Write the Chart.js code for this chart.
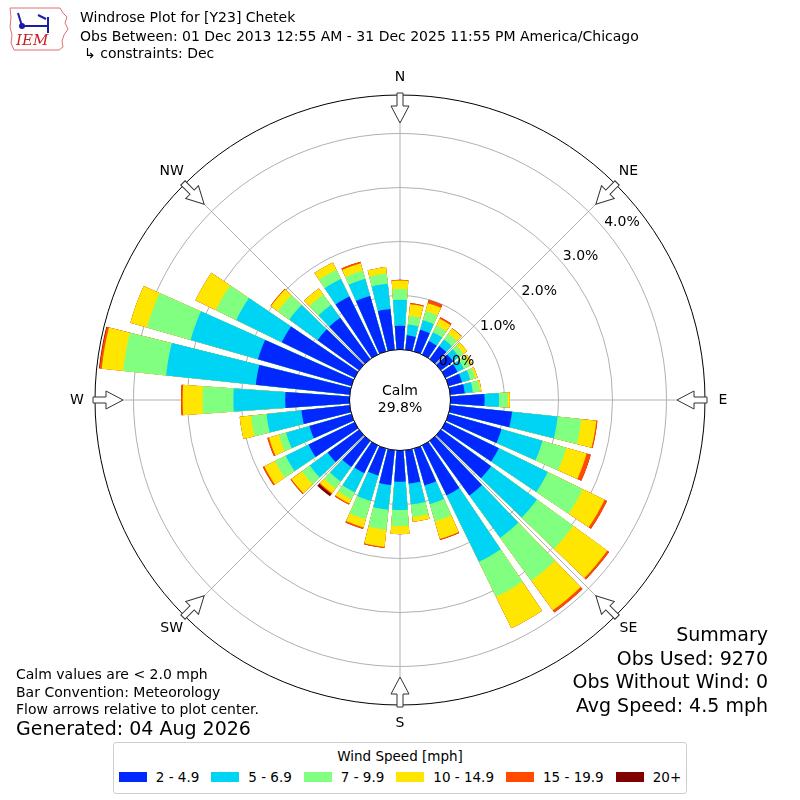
<!DOCTYPE html>
<html>
<head>
<meta charset="utf-8">
<script src="https://cdn.jsdelivr.net/npm/chart.js@4.4.0/dist/chart.umd.min.js"></script>
<style>
  body { margin: 0; background: #fff; font-family: "DejaVu Sans", sans-serif; }
  #wrap { position: relative; width: 800px; height: 800px; overflow: hidden; }
  #rose { position: absolute; left: 0; top: 0; }
  .txt { position: absolute; white-space: pre; color: #000; }
  #legend { position: absolute; left: 113px; top: 742px; width: 572px; height: 50px;
            border: 1px solid #cfcfcf; border-radius: 3px; background: #fff; }
  #legend .ttl { text-align: center; font-size: 13.5px; line-height: 16px; margin-top: 5px; white-space: nowrap; }
  #legItems { display: flex; justify-content: center; align-items: center; margin-top: 5px;
              font-size: 13.5px; line-height: 16px; white-space: nowrap; }
  #legItems span.sw { display: inline-block; width: 28px; height: 10px; margin-right: 9px; flex: none; }
  #legItems span.lb { margin-right: 12px; flex: none; }
  #legItems span.lb:last-child { margin-right: 0; }
</style>
</head>
<body>
<div id="wrap">
  <canvas id="rose" width="800" height="800"></canvas>

  <svg style="position:absolute;left:8px;top:5px" width="62" height="46" viewBox="0 0 62 46">
    <path d="M2 3 L52 3 L55 8 L59 12 L57 18 L60 24 L56 30 L54 36 L55 42 L51 45 L6 45 L3 38 L4 30 L2 22 L3 12 Z"
          fill="none" stroke="#e07070" stroke-width="1"/>
    <g stroke="#1c1ca8" stroke-width="2" fill="#1c1ca8">
      <line x1="14" y1="21" x2="40" y2="21"/>
      <line x1="40" y1="12" x2="40" y2="28"/>
      <line x1="10" y1="8" x2="14" y2="21"/>
      <line x1="30" y1="10" x2="38" y2="14"/>
      <circle cx="14" cy="21" r="2"/>
    </g>
    <text x="8" y="40" font-family="DejaVu Serif" font-style="italic" font-size="15" fill="#cc2020">IEM</text>
  </svg>

  <div class="txt" style="left:80px;top:9px;font-size:14px;line-height:17px">Windrose Plot for [Y23] Chetek</div>
  <div class="txt" style="left:80px;top:28px;font-size:14px;line-height:17px">Obs Between: 01 Dec 2013 12:55 AM - 31 Dec 2025 11:55 PM America/Chicago</div>
  <div class="txt" style="left:84px;top:45px;font-size:14px;line-height:17px">↳ constraints: Dec</div>

  <div class="txt" style="left:16px;top:666px;font-size:14px;line-height:17.5px">Calm values are &lt; 2.0 mph
Bar Convention: Meteorology
Flow arrows relative to plot center.</div>
  <div class="txt" style="left:16px;top:717px;font-size:19px;line-height:23px">Generated: 04 Aug 2026</div>

  <div class="txt" style="right:32px;top:623px;font-size:19px;line-height:23.5px;text-align:right">Summary
Obs Used: 9270
Obs Without Wind: 0
Avg Speed: 4.5 mph</div>

  <div id="legend">
    <div class="ttl">Wind Speed [mph]</div>
    <div id="legItems"></div>
  </div>
</div>

<script>
// direction bins (degrees, wind from), 10 degree steps
const directions = [0, 10, 20, 30, 40, 50, 60, 70, 80, 90, 100, 110, 120, 130, 140, 150, 160, 170,
                    180, 190, 200, 210, 220, 230, 240, 250, 260, 270, 280, 290, 300, 310, 320, 330, 340, 350];

const speedBins = ['2 - 4.9', '5 - 6.9', '7 - 9.9', '10 - 14.9', '15 - 19.9', '20+'];
const binColors = ['#0028ff', '#00d4f4', '#80ff80', '#ffe600', '#ff4a00', '#800000'];

// percent of observations per direction and speed bin
const pct2to5 = [0.44, 0.27, 0.42, 0.28, 0.30, 0.28, 0.25, 0.26, 0.27, 0.63,
                 1.15, 1.02, 1.10, 1.15, 1.25, 1.03, 0.71, 0.62, 0.58,
                 0.65, 0.52, 0.57, 0.60, 0.72, 0.95, 0.81, 0.90, 1.19,
                 1.75, 1.80, 1.50, 0.95, 0.95, 1.20, 1.07, 0.76];
const pct5to7 = [0.48, 0.20, 0.18, 0.18, 0.15, 0.14, 0.13, 0.16, 0.15, 0.27,
                 0.85, 0.79, 1.01, 1.05, 0.97, 1.37, 0.36, 0.39, 0.52,
                 0.46, 0.49, 0.40, 0.33, 0.41, 0.47, 0.45, 0.65, 0.96,
                 1.67, 1.30, 0.94, 0.65, 0.29, 0.36, 0.33, 0.47];
const pct7to10 = [0.20, 0.16, 0.18, 0.14, 0.13, 0.10, 0.12, 0.10, 0.13, 0.16,
                  0.44, 0.46, 0.72, 0.83, 0.98, 0.72, 0.33, 0.23, 0.30,
                  0.37, 0.35, 0.14, 0.16, 0.18, 0.22, 0.14, 0.29, 0.57,
                  0.80, 0.84, 0.42, 0.26, 0.24, 0.19, 0.16, 0.19];
const pct10to15 = [0.16, 0.22, 0.15, 0.14, 0.12, 0.08, 0.06, 0.04, 0.03, 0.04,
                   0.28, 0.39, 0.45, 0.78, 0.68, 0.65, 0.34, 0.09, 0.15,
                   0.32, 0.16, 0.09, 0.11, 0.24, 0.22, 0.19, 0.21, 0.37,
                   0.40, 0.32, 0.42, 0.16, 0.14, 0.15, 0.14, 0.12];
const pct15to20 = [0.01, 0.02, 0.06, 0.03, 0.01, 0, 0, 0, 0, 0,
                   0.02, 0.08, 0.05, 0.04, 0.05, 0, 0.02, 0, 0,
                   0.02, 0.03, 0.02, 0.02, 0.02, 0.03, 0.03, 0, 0.03,
                   0.04, 0, 0, 0.01, 0, 0, 0.03, 0];
const pct20up = [0, 0, 0, 0, 0, 0, 0, 0, 0, 0,
                 0, 0, 0, 0, 0, 0, 0, 0, 0,
                 0, 0, 0, 0.05, 0, 0, 0, 0, 0,
                 0.01, 0, 0, 0, 0, 0, 0, 0];

const calmPct = 29.8;
const ringTicks = [0, 1, 2, 3, 4];
const compassLabels = ['NE', 'E', 'SE', 'S', 'SW', 'W', 'NW', 'N'];  // angle lines start at 45 deg
const axisMin = -0.935, axisMax = 4.713;

// ---- build the stacked wedges (cumulative per speed bin) ----
const classes = [pct2to5, pct5to7, pct7to10, pct10to15, pct15to20, pct20up];
const barWidth = 8, gapWidth = 2;   // degrees, 0.8 opening

// arcs start at 45 deg: half gap, then bars 50..350,0..40 with gaps between, half gap
const itemAngles = [gapWidth / 2];
const itemDir = [-1];
for (let k = 0; k < directions.length; k++) {
    const d = (k + 5) % directions.length;
    itemAngles.push(barWidth); itemDir.push(d);
    if (k < directions.length - 1) { itemAngles.push(gapWidth); itemDir.push(-1); }
}
itemAngles.push(gapWidth / 2); itemDir.push(-1);

function cumulative(d, c) {
    let s = 0;
    for (let i = 0; i <= c; i++) s += classes[i][d];
    return s;
}

const datasets = speedBins.map((lab, c) => ({
    label: lab,
    data: itemDir.map(d => d < 0 ? 0 : cumulative(d, c)),
    backgroundColor: itemDir.map(d => d < 0 ? 'rgba(0,0,0,0)' : binColors[c]),
    borderWidth: 0,
    angle: ctx => itemAngles[ctx.dataIndex]
}));

// ---- decorations: calm disc, ring labels, flow arrows, compass labels ----
const roseDecor = {
    id: 'roseDecor',
    afterDraw(chart) {
        const s = chart.scales.r;
        const ctx = chart.ctx;
        const cx = s.xCenter, cy = s.yCenter;
        const r0 = s.getDistanceFromCenterForValue(0);
        const R = s.getDistanceFromCenterForValue(s.max);
        ctx.save();
        ctx.beginPath();
        ctx.arc(cx, cy, r0, 0, Math.PI * 2);
        ctx.fillStyle = '#fff';
        ctx.fill();
        ctx.lineWidth = 1;
        ctx.strokeStyle = '#000';
        ctx.stroke();

        ctx.fillStyle = '#000';
        ctx.font = '14px "DejaVu Sans"';
        ctx.textAlign = 'center';
        ctx.textBaseline = 'middle';
        ctx.fillText('Calm', cx, cy - 9);
        ctx.fillText(calmPct.toFixed(1) + '%', cx, cy + 8);

        const la = 50 * Math.PI / 180;
        ctx.textAlign = 'left';
        ctx.textBaseline = 'alphabetic';
        ringTicks.forEach(v => {
            const d = s.getDistanceFromCenterForValue(v);
            ctx.fillText(v.toFixed(1) + '%', cx + d * Math.sin(la), cy - d * Math.cos(la) - 3);
        });

        compassLabels.forEach((lab, i) => {
            const a = s.getIndexAngle(i) - Math.PI / 2;
            ctx.save();
            ctx.translate(cx, cy);
            ctx.rotate(a);
            ctx.beginPath();
            ctx.moveTo(R + 2, -3);
            ctx.lineTo(R - 11, -3);
            ctx.lineTo(R - 11, -9);
            ctx.lineTo(R - 28, 0);
            ctx.lineTo(R - 11, 9);
            ctx.lineTo(R - 11, 3);
            ctx.lineTo(R + 2, 3);
            ctx.closePath();
            ctx.fillStyle = '#fff';
            ctx.fill();
            ctx.strokeStyle = '#333';
            ctx.lineWidth = 1;
            ctx.stroke();
            ctx.restore();

            const p = s.getPointPosition(i, R + 18);
            ctx.textAlign = 'center';
            ctx.textBaseline = 'middle';
            ctx.fillStyle = '#000';
            ctx.fillText(lab, p.x, p.y);
        });
        ctx.restore();
    }
};

new Chart(document.getElementById('rose'), {
    type: 'polarArea',
    data: { labels: compassLabels, datasets: datasets },
    options: {
        responsive: false,
        animation: false,
        events: [],
        layout: { padding: 95 },
        plugins: { legend: { display: false }, tooltip: { enabled: false } },
        scales: {
            r: {
                min: axisMin,
                max: axisMax,
                startAngle: 45,
                z: 1,
                ticks: { display: false },
                afterBuildTicks: s => { s.ticks = ringTicks.concat([axisMax]).map(v => ({ value: v })); },
                grid: {
                    circular: true,
                    color: c => (c.tick && c.tick.value === axisMax) ? '#000' : '#b0b0b0',
                    lineWidth: 1
                },
                angleLines: { display: true, color: '#b0b0b0', lineWidth: 1 },
                pointLabels: { display: false }
            }
        }
    },
    plugins: [roseDecor]
});

// legend from the bins
const legItems = document.getElementById('legItems');
speedBins.forEach((lab, i) => {
    legItems.innerHTML += `<span class="sw" style="background:${binColors[i]}"></span><span class="lb">${lab}</span>`;
});
</script>
</body>
</html>
